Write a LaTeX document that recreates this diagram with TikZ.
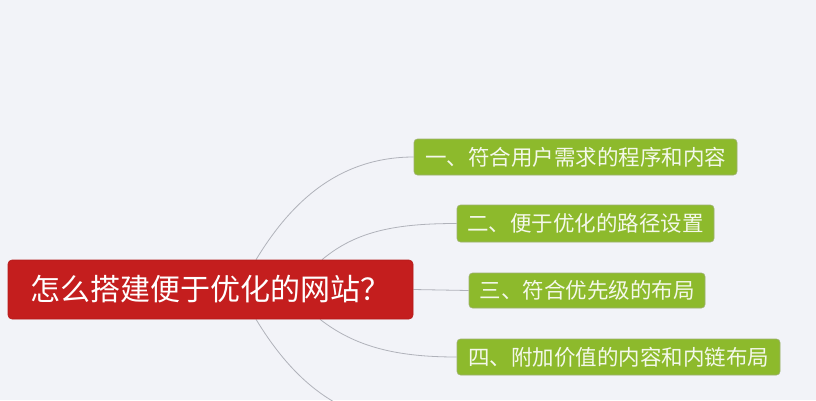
\documentclass[tikz,border=0pt]{standalone}
\usepackage{fontspec}
\newfontfamily\cjk{Noto Sans CJK SC}
\usetikzlibrary{backgrounds}
\definecolor{bgc}{HTML}{F2F3F8}
\definecolor{rootred}{HTML}{C41E1E}
\definecolor{rootedge}{HTML}{B51A1A}
\definecolor{leafgreen}{HTML}{8DBA2C}
\definecolor{leafedge}{HTML}{9DB070}
\definecolor{leaftext}{HTML}{F4F8EA}
\definecolor{linkgray}{HTML}{B0B2BA}
\tikzset{
  rootbox/.style={draw=rootedge, line width=0.6pt, fill=rootred, rounded corners=4pt,
    text=white, font=\cjk\fontsize{30}{33}\selectfont, inner sep=0pt,
    minimum width=405pt, minimum height=59pt},
  leafbox/.style={draw=leafedge, line width=0.6pt, fill=leafgreen, rounded corners=3.5pt,
    text=leaftext, font=\cjk\fontsize{21.5}{24}\selectfont, inner sep=0pt,
    minimum height=36pt},
  link/.style={draw=linkgray, line width=0.8pt}
}
\begin{document}
\begin{tikzpicture}[x=1pt,y=-1pt]
\useasboundingbox (0,0) rectangle (816,400);
\node[rootbox] (root) at (210.5,289.5) {怎么搭建便于优化的网站？};
\node[leafbox, minimum width=323pt] (g1) at (575.5,157) {一、符合用户需求的程序和内容};
\node[leafbox, minimum width=257pt, minimum height=37pt] (g2) at (585.5,223.5) {二、便于优化的路径设置};
\node[leafbox, minimum width=236pt, minimum height=35pt] (g3) at (587,290.5) {三、符合优先级的布局};
\node[leafbox, minimum width=323pt] (g4) at (618.5,357) {四、附加价值的内容和内链布局};
\coordinate (g5end) at (414,423);
\begin{pgfonlayer}{background}
  \fill[bgc] (0,0) rectangle (816,400);
  \draw[link] ([xshift=45.5pt]root.north) .. controls +(31,-51) and +(-80,0) .. (g1.west);
  \draw[link] ([xshift=111.5pt]root.north) .. controls +(34.5,-29) and +(-60,0) .. (g2.west);
  \draw[link] (root.east) -- (g3.west);
  \draw[link] ([xshift=109.5pt]root.south) .. controls +(35.5,27.7) and +(-60,0) .. (g4.west);
  \draw[link] ([xshift=45.5pt]root.south) .. controls +(31,51) and +(-80,0) .. (g5end);
\end{pgfonlayer}
\end{tikzpicture}
\end{document}
